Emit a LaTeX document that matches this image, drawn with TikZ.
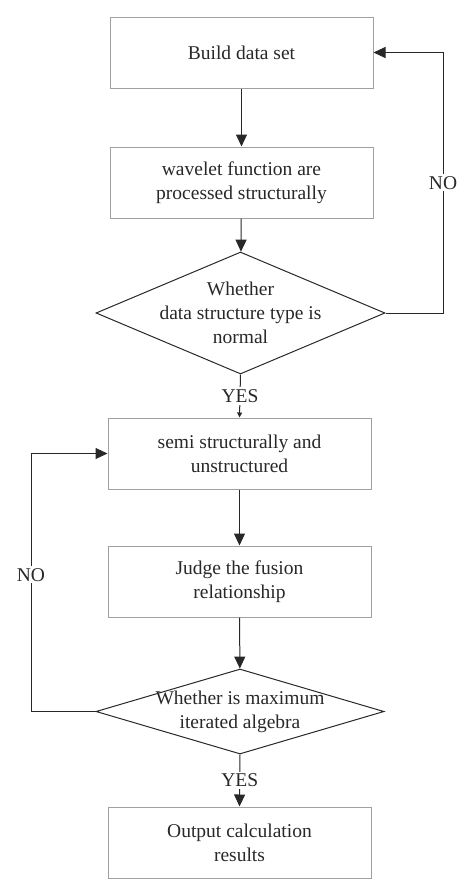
\documentclass[tikz,border=0pt]{standalone}
\usepackage{fontspec}
\setmainfont{Liberation Serif}
\usepackage{xcolor}
\usetikzlibrary{shapes.geometric,arrows.meta}
\definecolor{boxline}{RGB}{160, 160, 160}
\definecolor{ink}{RGB}{40, 40, 40}
\tikzset{
    stepbox/.style={draw=boxline, line width=1pt, minimum width=263pt, minimum height=71pt, align=center, text=ink},
    decision/.style={draw=ink, line width=1pt, shape=diamond, inner sep=0pt},
    flow/.style={draw=ink, line width=1pt, -{Triangle[length=12pt,width=11pt]}},
    tag/.style={fill=white, text=ink, inner sep=2pt}
}

\begin{document}
\begin{tikzpicture}[x=1pt, y=-1pt, font=\fontsize{19.5}{24}\selectfont]
        \useasboundingbox (0, 0) rectangle (474, 895);
        % first part
        \node[stepbox] (build) at (241.5, 52.5) {Build data set};
        \node[stepbox] (wavelet) at (241.5, 182.5) {wavelet function are\\processed structurally};
        \node[decision, minimum width=289pt, minimum height=122pt] (normal) at (240.5, 313) {};
        \node[align=center, text=ink] (normaltext) at (normal) {Whether\\data structure type is\\normal};
        % second part
        \node[stepbox] (semi) at (239.5, 453.5) {semi structurally and\\unstructured};
        \node[stepbox] (fusion) at (239.5, 581.5) {Judge the fusion\\relationship};
        \node[decision, minimum width=288pt, minimum height=85pt] (maxiter) at (240, 711.5) {};
        \node[align=center, text=ink] (maxitertext) at (maxiter) {Whether is maximum\\iterated algebra};
        \node[stepbox] (output) at (239.5, 842.5) {Output calculation\\results};

        \coordinate (rightup) at (443, 52.5);
        \coordinate (rightdown) at (443, 313);
        \coordinate (leftup) at (31, 453.5);
        \coordinate (leftdown) at (31, 711.5);

        \draw[flow] (build) -- (wavelet);
        \draw[flow] (wavelet) -- (normal);
        \draw[flow] (semi) -- (fusion);
        \draw[flow] (fusion) -- (maxiter);
        \draw[draw=ink, line width=1pt, -{Triangle[length=5pt,width=5pt]}] (normal.south) -- node[tag] {YES} (semi.north);
        \draw[flow] (maxiter.south) -- node[tag] {YES} (output.north);
        \draw[flow] (normal.east) -- (rightdown) -- node[tag] {NO} (rightup) -- (build.east);
        \draw[flow] (maxiter.west) -- (leftdown) -- node[tag, pos=0.53] {NO} (leftup) -- (semi.west);
    \end{tikzpicture}
\end{document}
